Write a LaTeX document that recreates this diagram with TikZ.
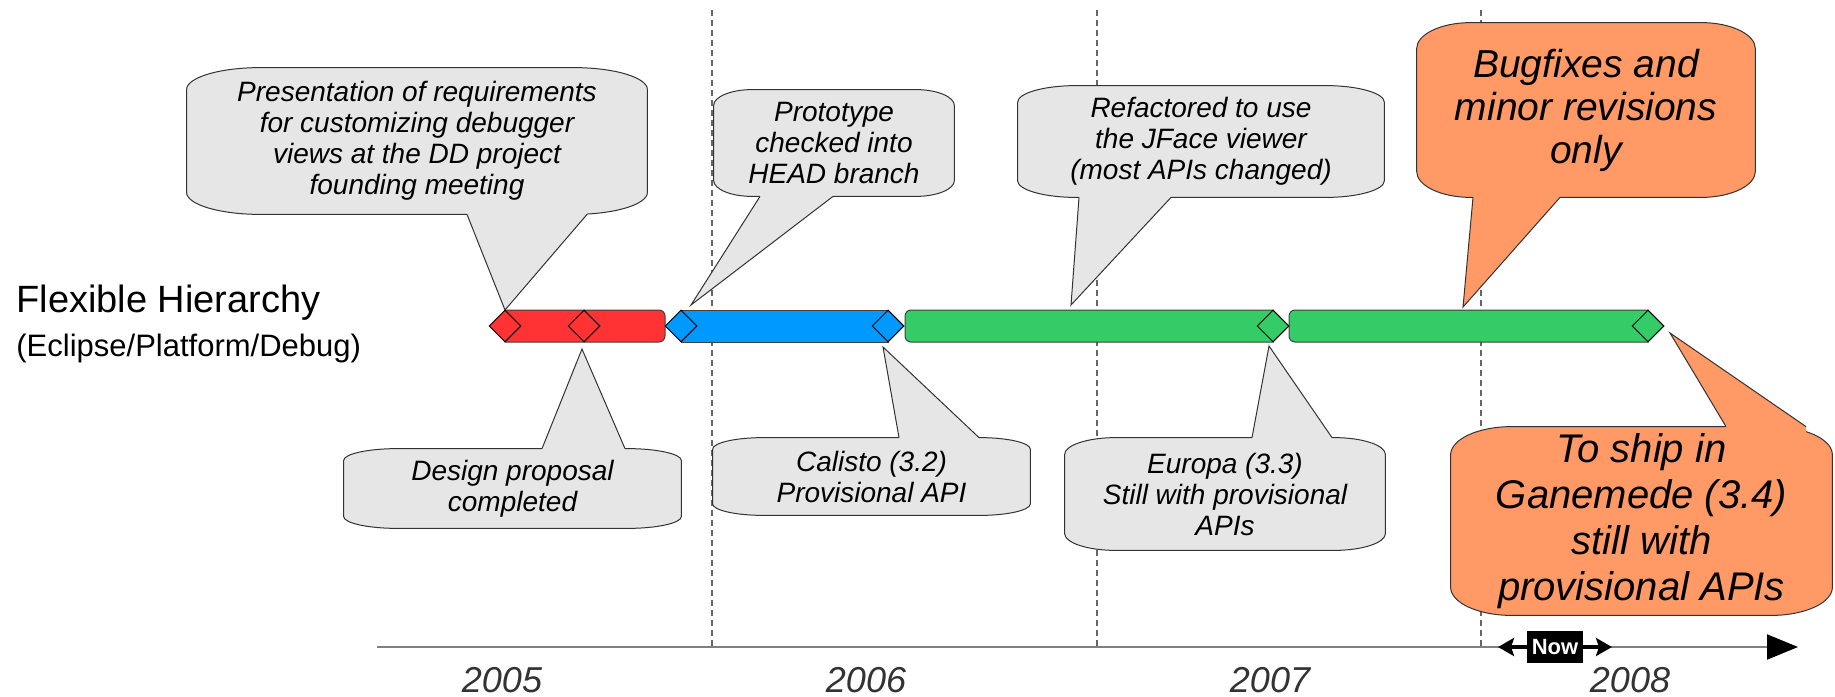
\documentclass[tikz,border=0pt]{standalone}
\usepackage{fontspec}
\setmainfont{Liberation Sans}
\usetikzlibrary{shapes.geometric,arrows.meta,calc,backgrounds}
\definecolor{barred}{HTML}{FF3333}
\definecolor{barblue}{HTML}{0099FF}
\definecolor{bargreen}{HTML}{33CC66}
\definecolor{notegray}{HTML}{E6E6E6}
\definecolor{noteorange}{HTML}{FF9966}
\definecolor{yeargray}{HTML}{333333}
\newcommand\callout[6]{%
  \begin{pgfonlayer}{background}
    \path[fill=#2, draw=black!80, line width=0.5pt]
      let \p1=(#1.south west), \p2=(#1.north east),
          \n1={0.16*(\x2-\x1)}, \n2={0.15*(\y2-\y1)} in
      (\x1,{\y1+\n2*1pt}) -- (\x1,{\y2-\n2*1pt})
      arc[start angle=180, end angle=90, x radius={\n1*1pt}, y radius={\n2*1pt}]
      -- ({\x2-\n1*1pt},\y2)
      arc[start angle=90, end angle=0, x radius={\n1*1pt}, y radius={\n2*1pt}]
      -- (\x2,{\y1+\n2*1pt})
      arc[start angle=0, end angle=-90, x radius={\n1*1pt}, y radius={\n2*1pt}]
      -- ({\x1+\n1*1pt},\y1)
      arc[start angle=-90, end angle=-180, x radius={\n1*1pt}, y radius={\n2*1pt}]
      -- cycle;
    \coordinate (#1-a) at (#4,0 |- #1.#3);
    \coordinate (#1-b) at (#5,0 |- #1.#3);
    \fill[#2] ($(#1-a)!3pt!(#1-a |- #1.center)$) -- (#1-a) -- (#6) -- (#1-b)
      -- ($(#1-b)!3pt!(#1-b |- #1.center)$) -- cycle;
    \draw[black!80, line width=0.5pt] (#1-a) -- (#6) -- (#1-b);
  \end{pgfonlayer}}
\begin{document}
\begin{tikzpicture}[x=0.5pt, y=-0.5pt,
    note/.style={inner sep=0pt, align=center, font=\fontsize{14}{15.5}\selectfont\itshape},
    bignote/.style={inner sep=0pt, align=center, font=\fontsize{19.5}{21.5}\selectfont\itshape},
    milestone/.style={diamond, draw=black, line width=0.5pt, minimum width=16pt, minimum height=16pt, inner sep=0pt},
    bar/.style={draw=black!75, line width=0.5pt},
    guide/.style={draw=black!60, line width=0.6pt, dash pattern=on 3pt off 2pt},
    year/.style={anchor=base, text=yeargray, font=\fontsize{18}{18}\selectfont\itshape},
    axis/.style={draw=black!50, line width=1pt, -{Triangle[length=15.5pt, width=12.5pt, black]}},
    nowbox/.style={fill=black, text=white, font=\fontsize{11}{11}\selectfont\bfseries, minimum width=28pt, minimum height=16pt, inner sep=0pt},
    nowarrow/.style={draw=black, line width=2pt, -{Stealth[length=8pt, width=9pt, inset=1.5pt]}}
  ]
  \useasboundingbox (0,0) rectangle (1835,696);
  \begin{pgfonlayer}{background}
    \foreach \gx [count=\k] in {712,1097,1481}{
      \coordinate (gt\k) at (\gx,10);
      \coordinate (gb\k) at (\gx,647);
      \draw[guide] (gt\k) -- (gb\k);
    }
  \end{pgfonlayer}

  \node[anchor=base west, inner sep=0pt, font=\fontsize{19}{19}\selectfont] (fh) at (16,312) {Flexible Hierarchy};
  \node[anchor=base west, inner sep=0pt, font=\fontsize{15.5}{15.5}\selectfont] (epd) at (16,356) {(Eclipse/Platform/Debug)};

  \draw[bar, fill=barred] (505,310) -- (659,310) arc[start angle=90, end angle=0, radius=3pt]
    -- (665,336) arc[start angle=0, end angle=-90, radius=3pt] -- (505,342) -- cycle;
  \draw[bar, fill=barblue] (681,310) rectangle (888,342);
  \draw[bar, fill=bargreen] (1273,310) -- (911,310) arc[start angle=90, end angle=180, radius=3pt]
    -- (905,336) arc[start angle=180, end angle=270, radius=3pt] -- (1273,342) -- cycle;
  \draw[bar, fill=bargreen] (1648,310) -- (1295,310) arc[start angle=90, end angle=180, radius=3pt]
    -- (1289,336) arc[start angle=180, end angle=270, radius=3pt] -- (1648,342) -- cycle;

  \node[milestone, fill=barred] (m1) at (505,326) {};
  \node[milestone, fill=barred] (m2) at (584,326) {};
  \node[milestone, fill=barblue] (m3) at (681,326) {};
  \node[milestone, fill=barblue] (m4) at (888,326) {};
  \node[milestone, fill=bargreen] (m5) at (1273,326) {};
  \node[milestone, fill=bargreen] (m6) at (1648,326) {};

  \coordinate (pres-tip) at (505,310);
  \coordinate (proto-tip) at (691,305);
  \coordinate (refac-tip) at (1071,305);
  \coordinate (bugs-tip) at (1463,307);
  \coordinate (design-tip) at (582,349);
  \coordinate (calisto-tip) at (883,347);
  \coordinate (europa-tip) at (1269,346);
  \coordinate (ship-tip) at (1670,333);

  \node[note, minimum width=230pt, minimum height=73pt] (pres) at (417,141)
    {Presentation of requirements\\for customizing debugger\\views at the DD project\\founding meeting};
  \node[note, minimum width=120pt, minimum height=53pt] (proto) at (834,143)
    {Prototype\\checked into\\HEAD branch};
  \node[note, minimum width=183pt, minimum height=55.5pt] (refac) at (1201,141.5)
    {Refactored to use\\the JFace viewer\\(most APIs changed)};
  \node[bignote, minimum width=169pt, minimum height=87pt] (bugs) at (1586,110)
    {Bugfixes and\\minor revisions\\only};
  \node[note, minimum width=168.5pt, minimum height=39.5pt] (design) at (512.5,488.5)
    {Design proposal\\completed};
  \node[note, minimum width=158.5pt, minimum height=38.5pt] (calisto) at (871.5,476.5)
    {Calisto (3.2)\\Provisional API};
  \node[note, minimum width=160pt, minimum height=56pt] (europa) at (1225,494)
    {Europa (3.3)\\Still with provisional\\APIs};
  \node[bignote, font=\fontsize{20}{23}\selectfont\itshape, minimum width=190.5pt, minimum height=94pt] (ship) at (1641.5,521)
    {To ship in\\Ganemede (3.4)\\still with\\provisional APIs};

  \callout{pres}{notegray}{south}{467}{587}{pres-tip}
  \callout{proto}{notegray}{south}{760}{833}{proto-tip}
  \callout{refac}{notegray}{south}{1079}{1171}{refac-tip}
  \callout{bugs}{noteorange}{south}{1473}{1560}{bugs-tip}
  \callout{design}{notegray}{north}{542}{625}{design-tip}
  \callout{calisto}{notegray}{north}{899}{979}{calisto-tip}
  \callout{europa}{notegray}{north}{1252}{1332}{europa-tip}
  \callout{ship}{noteorange}{north}{1726}{1806}{ship-tip}

  \coordinate (axs) at (377,647);
  \coordinate (axe) at (1798,647);
  \draw[axis] (axs) -- (axe);
  \foreach \yr/\yx in {2005/502, 2006/866, 2007/1270, 2008/1630}
    \node[year] (y\yr) at (\yx,692) {\yr};

  \node[nowbox] (now) at (1555,647) {Now};
  \coordinate (nowl) at (1498,647);
  \coordinate (nowr) at (1612,647);
  \draw[nowarrow] (now.west) -- (nowl);
  \draw[nowarrow] (now.east) -- (nowr);
\end{tikzpicture}
\end{document}
